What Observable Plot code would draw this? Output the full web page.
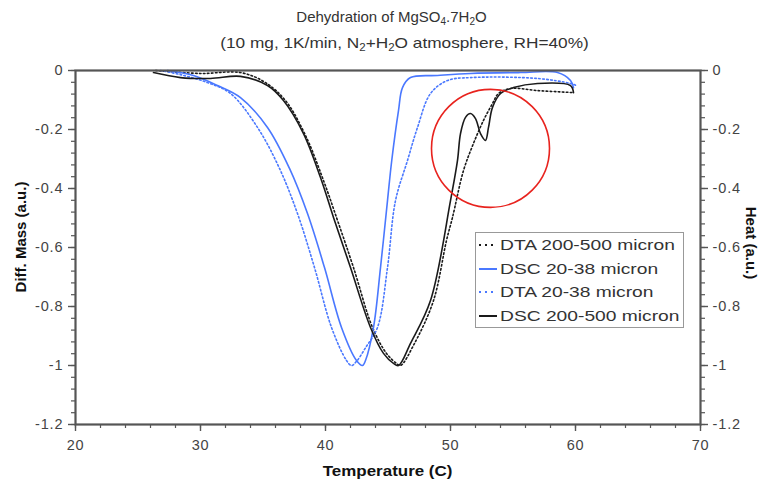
<!DOCTYPE html>
<html>
<head>
<meta charset="utf-8">
<script src="https://cdn.jsdelivr.net/npm/d3@7"></script>
<script src="https://cdn.jsdelivr.net/npm/@observablehq/plot@0.6"></script>
<style>
  html, body { margin: 0; padding: 0; background: #fff; }
  #wrap { position: relative; width: 759px; height: 487px; font-family: "Liberation Sans", Arial, sans-serif; color: #333; }
  #wrap svg text { font-family: "Liberation Sans", Arial, sans-serif; }
  #wrap svg g[aria-label="y-axis tick label"] text { letter-spacing: 0.9px; }
  #wrap svg g[aria-label="x-axis tick label"] text { letter-spacing: 0.6px; }
  .ov { position: absolute; white-space: nowrap; }
  .title { width: 759px; text-align: center; font-size: 15px; color: #333; }
  .title sub { font-size: 10px; vertical-align: -3px; line-height: 0; }
  .axlab { font-weight: bold; font-size: 15px; color: #111; }
  #legend { position: absolute; left: 475px; top: 232px; width: 207px; height: 94px; border: 1px solid #999; background: #fff; }
  .lrow { position: absolute; left: 2px; height: 20px; display: flex; align-items: center; font-size: 15.5px; color: #333; }
  .lrow span { display: inline-block; transform: scaleX(1.24); transform-origin: left center; }
  .lrow svg { margin-right: 2px; }
</style>
</head>
<body>
<div id="wrap"></div>
<script>
// ---- data ----
const xTicks = [20, 30, 40, 50, 60, 70];
const yTicks = [0, -0.2, -0.4, -0.6, -0.8, -1, -1.2];

const seriesNames = ["DTA 200-500 micron", "DSC 20-38 micron", "DTA 20-38 micron", "DSC 200-500 micron"];

// DSC 20-38 micron (blue, solid)
const dscSmallT = [27.36, 29.44, 31.36, 33.2, 35.36, 37.12, 38.56, 39.92, 41.28, 42.48, 42.96, 43.2, 43.84, 44.4, 44.96, 45.3, 45.84, 46.16, 46.8, 48.96, 51.6, 55.6, 58.56, 59.6, 59.84];
const dscSmallY = [0, -0.017, -0.051, -0.092, -0.193, -0.332, -0.485, -0.668, -0.871, -0.983, -1.0, -0.983, -0.871, -0.668, -0.441, -0.305, -0.136, -0.058, -0.024, -0.017, -0.01, -0.007, -0.007, -0.034, -0.058];

// DTA 20-38 micron (blue, dotted)
const dtaSmallT = [26.8, 28.4, 30.56, 32.4, 34.56, 36.32, 37.76, 39.12, 40.48, 41.68, 42.08, 42.5, 43.2, 44.16, 44.96, 45.6, 46.56, 47.36, 48.4, 49.76, 51.6, 56.96, 59.6, 60];
const dtaSmallY = [0, -0.014, -0.041, -0.078, -0.193, -0.332, -0.485, -0.668, -0.871, -0.983, -1.0, -0.985, -0.94, -0.871, -0.668, -0.441, -0.305, -0.193, -0.078, -0.034, -0.024, -0.027, -0.044, -0.05];

// DSC 200-500 micron (black, solid)
const dscLargeT = [26.24, 28.4, 30.8, 33.2, 35.36, 36.64, 38.24, 39.6, 40.64, 42, 43.6, 44.64, 45.44, 45.84, 46.8, 48.4, 50, 50.56, 50.8, 51.2, 51.6, 52, 52.4, 52.8, 53.04, 53.36, 54, 55.04, 56.96, 59.6, 59.84];
const dscLargeY = [-0.007, -0.024, -0.027, -0.02, -0.051, -0.102, -0.214, -0.363, -0.498, -0.668, -0.871, -0.959, -0.993, -1.0, -0.925, -0.78, -0.441, -0.305, -0.214, -0.159, -0.146, -0.163, -0.214, -0.237, -0.193, -0.125, -0.078, -0.058, -0.044, -0.051, -0.075];

// DTA 200-500 micron (black, dotted)
const dtaLargeT = [26.4, 30, 33.2, 35.2, 36.8, 38.4, 39.84, 40.96, 42.24, 43.76, 44.88, 45.68, 46, 47.12, 48.64, 49.68, 50.16, 51.04, 51.84, 52.64, 53.36, 53.84, 54.8, 56.96, 59.84];
const dtaLargeY = [0, -0.01, -0.007, -0.041, -0.102, -0.22, -0.373, -0.508, -0.668, -0.871, -0.959, -0.993, -1.0, -0.925, -0.78, -0.576, -0.498, -0.339, -0.247, -0.169, -0.112, -0.078, -0.061, -0.068, -0.075];

// annotation circle (centre in data units)
const circleX = [53.2];
const circleY = [-0.264];

// ---- build ----
const blue = "#4a78ff";
const black = "#1a1a1a";
const styles = {
  "DTA 200-500 micron": {stroke: black, dash: "1.6,2.4", width: 1.6},
  "DSC 20-38 micron": {stroke: blue, dash: null, width: 1.6},
  "DTA 20-38 micron": {stroke: blue, dash: "1.6,2.4", width: 1.6},
  "DSC 200-500 micron": {stroke: black, dash: null, width: 1.6}
};
const toRows = (T, Y) => T.map((t, i) => ({t, v: Y[i]}));
const seriesData = {
  "DTA 200-500 micron": toRows(dtaLargeT, dtaLargeY),
  "DSC 20-38 micron": toRows(dscSmallT, dscSmallY),
  "DTA 20-38 micron": toRows(dtaSmallT, dtaSmallY),
  "DSC 200-500 micron": toRows(dscLargeT, dscLargeY)
};
const xMinor = d3.range(0, 26).map(i => 20 + i * 2);
const yMinorTicks = d3.range(0, 31).map(i => +(-i * 0.04).toFixed(2));
const fmt = d => String(+(+d).toFixed(1));

const lineMarks = seriesNames.map(name => Plot.line(seriesData[name], {
  x: "t", y: "v", stroke: styles[name].stroke, strokeWidth: styles[name].width,
  strokeDasharray: styles[name].dash || undefined, curve: "catmull-rom"
}));

const axisColor = "#555";
const chart = Plot.plot({
  width: 759, height: 487,
  marginLeft: 75, marginRight: 59, marginTop: 70, marginBottom: 63,
  style: {fontSize: "14.5px", color: "#444", background: "white", overflow: "visible"},
  x: {domain: [20, 70]},
  y: {domain: [-1.2, 0]},
  marks: [
    Plot.axisX({ticks: xMinor, tickSize: 4, tickFormat: () => "", label: null, stroke: axisColor, strokeWidth: 1.2}),
    Plot.axisX({ticks: xTicks, tickSize: 7, tickPadding: 8, tickFormat: fmt, label: null, stroke: axisColor, strokeWidth: 1.4, fill: "#444"}),
    Plot.axisY({ticks: yMinorTicks, tickSize: 4, tickFormat: () => "", label: null, stroke: axisColor, strokeWidth: 1.2}),
    Plot.axisY({ticks: yTicks, tickSize: 7, tickPadding: 5, tickFormat: fmt, label: null, stroke: axisColor, strokeWidth: 1.4, fill: "#444"}),
    Plot.axisY({anchor: "right", ticks: yMinorTicks, tickSize: 4, tickFormat: () => "", label: null, stroke: axisColor, strokeWidth: 1.2}),
    Plot.axisY({anchor: "right", ticks: yTicks, tickSize: 7, tickPadding: 5, tickFormat: fmt, label: null, stroke: axisColor, strokeWidth: 1.4, fill: "#444"}),
    ...lineMarks,
    Plot.dot(circleX.map((x, i) => ({x, y: circleY[i]})), {x: "x", y: "y", r: 59, stroke: "#e8231e", strokeWidth: 1.6, fill: "none"}),
    Plot.frame({stroke: axisColor, strokeWidth: 2.2})
  ]
});

const wrap = document.getElementById("wrap");
chart.style.position = "absolute";
chart.style.left = "0px";
chart.style.top = "0px";
wrap.appendChild(chart);

function addDiv(cls, html, css) {
  const d = document.createElement("div");
  d.className = "ov " + cls;
  d.innerHTML = html;
  Object.assign(d.style, css);
  wrap.appendChild(d);
  return d;
}
addDiv("title", "Dehydration of MgSO<sub>4</sub>.7H<sub>2</sub>O", {left: "12px", top: "8px"});
addDiv("title", "(10 mg, 1K/min, N<sub>2</sub>+H<sub>2</sub>O atmosphere, RH=40%)", {left: "25px", top: "34px", transform: "scaleX(1.15)", transformOrigin: "50% 50%"});
addDiv("axlab", "Temperature (C)", {left: "0px", width: "775px", textAlign: "center", top: "462px", transform: "scaleX(1.13)", transformOrigin: "387px 50%"});
addDiv("axlab", "Diff. Mass (a.u.)", {left: "20px", top: "237px", transform: "translate(-50%,-50%) rotate(-90deg)"});
addDiv("axlab", "Heat (a.u.)", {left: "751px", top: "243px", transform: "translate(-50%,-50%) rotate(90deg)"});

// legend
const leg = document.createElement("div");
leg.id = "legend";
wrap.appendChild(leg);
seriesNames.forEach((name, i) => {
  const row = document.createElement("div");
  row.className = "lrow";
  row.style.top = (2 + i * 23.5) + "px";
  const s = styles[name];
  row.innerHTML = `<svg width="20" height="10"><line x1="1" y1="5" x2="19" y2="5" stroke="${s.stroke}" stroke-width="2" ${s.dash ? 'stroke-dasharray="2,4"' : ''}/></svg><span>${name}</span>`;
  leg.appendChild(row);
});
</script>
</body>
</html>
